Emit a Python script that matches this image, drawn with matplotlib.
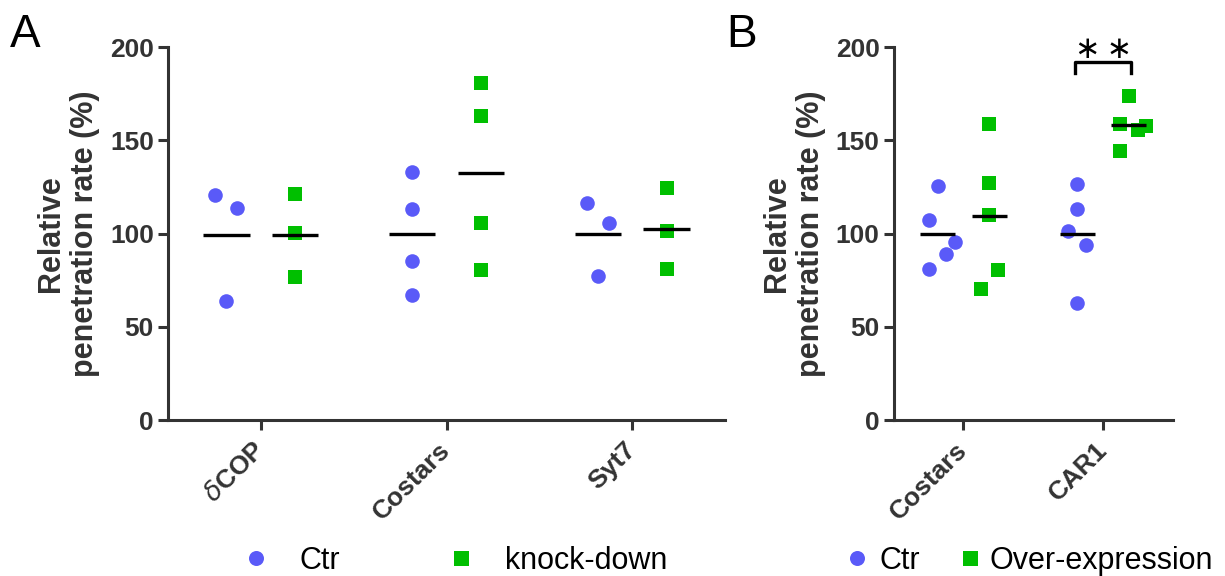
import numpy as np
import matplotlib
matplotlib.use("Agg")
import matplotlib.pyplot as plt
from matplotlib.lines import Line2D

plt.rcParams['font.family'] = ['Liberation Sans', 'DejaVu Sans']

BLUE = '#5A5AF8'
GREEN = '#00BF00'
DARK = '#333333'

# panel A: knock-down
genes_a = [r'$\delta$COP', 'Costars', 'Syt7']
ctr_a = [[120.8, 113.6, 63.9], [132.9, 112.9, 85.2, 66.9], [116.1, 105.4, 77.1]]
ctr_a_jit = [[-0.06, 0.06, 0.0], [0, 0, 0, 0], [-0.06, 0.06, 0.0]]
kd_a = [[121.1, 100.2, 76.6], [180.7, 163.0, 105.9, 80.5], [124.5, 101.1, 81.2]]
kd_a_jit = [[0, 0, 0], [0, 0, 0, 0], [0, 0, 0]]

# panel B: over-expression
genes_b = ['Costars', 'CAR1']
ctr_b = [[125.4, 107.2, 95.5, 88.9, 80.9], [126.3, 112.9, 101.6, 93.9, 62.8]]
ctr_b_jit = [[0, -0.064, 0.123, 0.062, -0.064], [0, 0, -0.064, 0.062, 0]]
oe_b = [[158.7, 127.2, 109.7, 80.3, 70.5], [173.9, 158.7, 157.4, 155.6, 144.5]]
oe_b_jit = [[0, 0, 0, 0.064, -0.062], [0, -0.062, 0.123, 0.062, -0.062]]

OFFSET = 0.185
HALF = 0.125


def draw_panel(ax, genes, ctr, ctr_jit, trt, trt_jit):
    for i in range(len(genes)):
        for vals, jit, off, mk, col in ((ctr[i], ctr_jit[i], -OFFSET, 'o', BLUE),
                                        (trt[i], trt_jit[i], OFFSET, 's', GREEN)):
            xs = i + off + np.array(jit)
            ax.plot(xs, vals, linestyle='none', marker=mk, color=col,
                    ms=10.5 if mk == 'o' else 10, mew=0, clip_on=False, zorder=3)
            m = np.mean(vals)
            ax.plot([i + off - HALF, i + off + HALF], [m, m], color='black',
                    lw=2.4, solid_capstyle='butt', zorder=4)

    ax.set_xlim(-0.5, len(genes) - 0.5)
    ax.set_ylim(0, 200)
    ax.set_yticks([0, 50, 100, 150, 200])
    ax.set_xticks(range(len(genes)))
    ax.set_xticklabels(genes, rotation=45, ha='right', va='center',
                       rotation_mode='anchor', fontsize=19, fontweight='bold', color=DARK)
    for lab in ax.get_yticklabels():
        lab.set_fontsize(19)
        lab.set_fontweight('bold')
        lab.set_color(DARK)
    for s in ['top', 'right']:
        ax.spines[s].set_visible(False)
    for s in ['left', 'bottom']:
        ax.spines[s].set_linewidth(2.2)
        ax.spines[s].set_color(DARK)
    ax.tick_params(axis='both', length=7, width=2.2, color=DARK)
    ax.tick_params(axis='y', pad=3)
    ax.tick_params(axis='x', pad=12)
    ax.set_ylabel('Relative\npenetration rate (%)', fontsize=22, fontweight='bold',
                  color=DARK, labelpad=7)


fig = plt.figure(figsize=(12.25, 5.76), dpi=100)
ax_a = fig.add_axes([0.137, 0.2708, 0.455, 0.6476])
ax_b = fig.add_axes([0.7295, 0.2708, 0.228, 0.6476])

draw_panel(ax_a, genes_a, ctr_a, ctr_a_jit, kd_a, kd_a_jit)
draw_panel(ax_b, genes_b, ctr_b, ctr_b_jit, oe_b, oe_b_jit)

# significance bracket on CAR1
ax_b.plot([1 - 0.2, 1 - 0.2, 1 + 0.2, 1 + 0.2], [186, 192, 192, 186],
          color='black', lw=2.4, clip_on=False)
ax_b.text(1, 198.5, '\u2217\u2009\u2217', ha='center', va='center', fontsize=22,
          family=['DejaVu Sans'])

fig.text(0.008, 0.918, 'A', fontsize=33, va='baseline')
fig.text(0.593, 0.918, 'B', fontsize=33, va='baseline')

h_ctr = Line2D([], [], linestyle='none', marker='o', color=BLUE, ms=10.8, mew=0)
h_kd = Line2D([], [], linestyle='none', marker='s', color=GREEN, ms=10.8, mew=0)

# one legend per entry so each spacing can follow the reference
entries = [(h_ctr, 'Ctr', 240.7, 0.94), (h_kd, 'knock-down', 445.7, 0.94),
           (h_ctr, 'Ctr', 841.7, 0.25), (h_kd, 'Over-expression', 954.7, 0.15)]
for h, lab, left_px, pad in entries:
    fig.legend([h], [lab], loc='center left', bbox_to_anchor=(left_px / 1225, 0.026),
               frameon=False, fontsize=22, handlelength=1.0, handletextpad=pad,
               borderpad=0, borderaxespad=0)

fig.savefig('out.png', dpi=100)
